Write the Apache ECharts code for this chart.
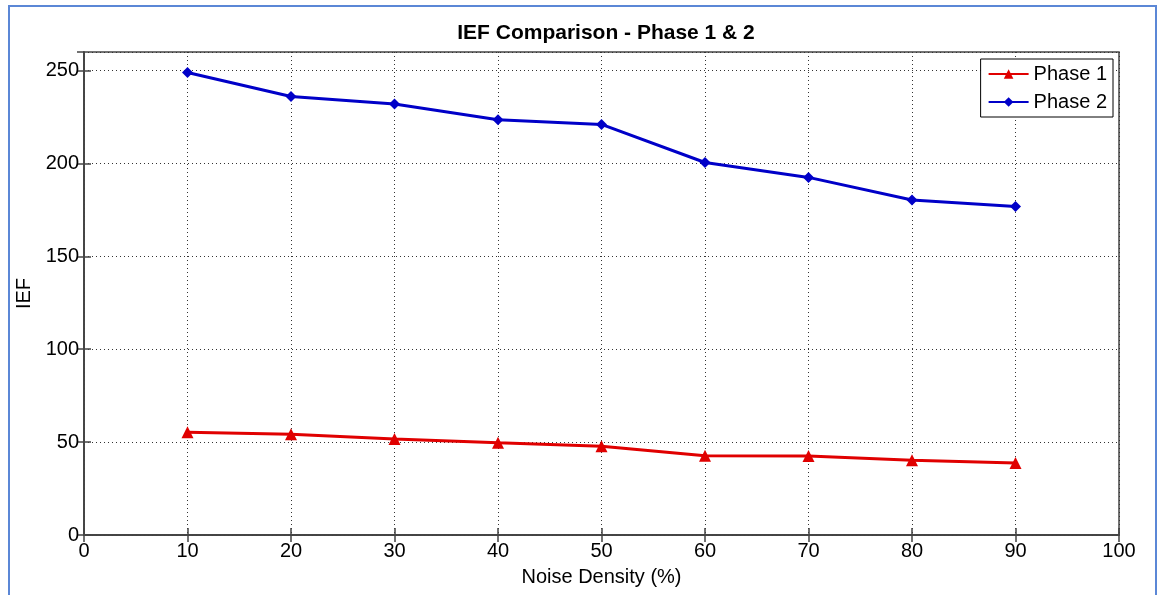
<!DOCTYPE html>
<html>
<head>
<meta charset="utf-8">
<script src="https://cdn.jsdelivr.net/npm/echarts@6/dist/echarts.min.js"></script>
<style>
html,body{margin:0;padding:0;background:#fff;}
#frame{position:absolute;left:8px;top:5px;width:1149px;height:600px;border:2px solid #5b87d6;box-sizing:border-box;}
#chart{position:absolute;left:0;top:0;width:1160px;height:595px;}
</style>
</head>
<body>
<div id="frame"></div>
<div id="chart"></div>
<script>
const noiseDensity = [10, 20, 30, 40, 50, 60, 70, 80, 90];
const phase1 = [55.3, 54.3, 51.7, 49.6, 47.8, 42.6, 42.5, 40.3, 38.7];
const phase2 = [249, 236, 232, 223.5, 221, 200.5, 192.5, 180.3, 176.8];
const titleText = 'IEF Comparison - Phase 1 & 2';
const xName = 'Noise Density (%)';
const yName = 'IEF';
const seriesNames = ['Phase 1', 'Phase 2'];

const font = 'Liberation Sans, Arial, sans-serif';
const chart = echarts.init(document.getElementById('chart'));
const pair = a => noiseDensity.map((x, i) => [x, a[i]]);
const gridLine = {show: true, lineStyle: {color: '#333', type: [1, 3], width: 1}};
const frameLine = {show: true, lineStyle: {color: '#444', width: 1.5}};
const tick = {show: true, inside: true, length: 7, lineStyle: {color: '#444', width: 1.5}};
chart.setOption({
  animation: false,
  backgroundColor: 'transparent',
  title: {text: titleText, left: 601, top: 18, textAlign: 'center',
    textStyle: {fontFamily: font, fontSize: 21, fontWeight: 'bold', color: '#000'}},
  grid: {left: 84, right: 41, top: 52, bottom: 60, show: true, borderColor: '#444', borderWidth: 1.5,
    containLabel: false, outerBoundsMode: 'none'},
  legend: {
    right: 47, top: 59, orient: 'vertical', itemGap: 8, itemWidth: 40, itemHeight: 12,
    backgroundColor: '#fff', borderColor: '#000', borderWidth: 1, padding: [5, 6, 5, 7],
    textStyle: {fontFamily: font, fontSize: 20, color: '#000'},
    data: seriesNames
  },
  xAxis: [{
    type: 'value', min: 0, max: 100, interval: 10,
    name: xName, nameLocation: 'middle', nameGap: 32,
    nameTextStyle: {fontFamily: font, fontSize: 20, color: '#000'},
    axisLine: frameLine, axisTick: tick,
    axisLabel: {fontFamily: font, fontSize: 20, color: '#000', margin: 6},
    splitLine: gridLine
  }, {
    type: 'value', position: 'top', min: 0, max: 100, interval: 10,
    axisLine: frameLine, axisTick: tick,
    axisLabel: {show: false}, splitLine: {show: false}
  }],
  yAxis: [{
    type: 'value', min: 0, max: 260, interval: 50,
    name: yName, nameLocation: 'middle', nameGap: 48,
    nameTextStyle: {fontFamily: font, fontSize: 20, color: '#000'},
    axisLine: frameLine, axisTick: tick,
    axisLabel: {fontFamily: font, fontSize: 20, color: '#000', margin: 5, showMaxLabel: false,
      formatter: v => (v % 50 === 0 ? String(v) : '')},
    splitLine: gridLine
  }, {
    type: 'value', position: 'right', min: 0, max: 260, interval: 50,
    axisLine: frameLine, axisTick: tick,
    axisLabel: {show: false}, splitLine: {show: false}
  }],
  series: [{
    name: seriesNames[0], type: 'line', data: pair(phase1),
    symbol: 'triangle', symbolSize: 12,
    lineStyle: {color: '#e00000', width: 3}, itemStyle: {color: '#e00000'}
  }, {
    name: seriesNames[1], type: 'line', data: pair(phase2),
    symbol: 'diamond', symbolSize: 11,
    lineStyle: {color: '#0000c8', width: 3}, itemStyle: {color: '#0000c8'}
  }]
});
</script>
</body>
</html>
